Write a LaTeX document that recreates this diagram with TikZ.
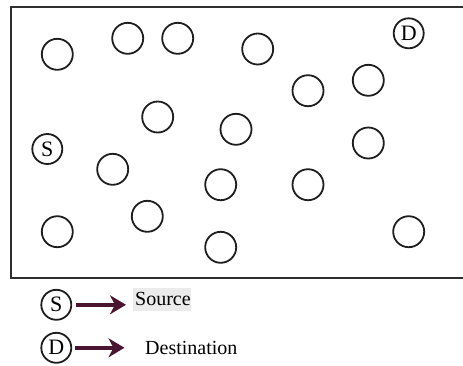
\documentclass[tikz,border=0pt]{standalone}
\usepackage{fontspec}
\setmainfont{Liberation Serif}
\usetikzlibrary{arrows.meta}
\definecolor{framegray}{HTML}{2E2E2E}
\definecolor{nodeink}{HTML}{1E1E1E}
\definecolor{arrowred}{HTML}{4A1530}
\definecolor{markgray}{HTML}{EBEBEB}
\tikzset{
  sensor/.style={circle, draw=nodeink, line width=1.8pt, minimum size=31pt, inner sep=0pt},
  endpoint/.style={circle, draw=nodeink, line width=1.8pt, minimum size=30pt, inner sep=0pt,
                   font=\fontsize{22}{22}\selectfont},
  legarrow/.style={draw=arrowred, line width=4pt,
                   -{Stealth[length=16pt,width=19pt,inset=5pt]}},
  legtext/.style={anchor=base west, inner sep=0pt, font=\fontsize{20}{20}\selectfont},
}
\begin{document}
\begin{tikzpicture}[x=1pt,y=-1pt]
\useasboundingbox (0,0) rectangle (463,365);
% deployment field
\draw[framegray, line width=2.2pt] (470,7) -- (11,7) -- (11,278) -- (470,278);
% intermediate nodes
\node[sensor] (n1)  at (57.3,54.3) {};
\node[sensor] (n2)  at (127.7,38.3) {};
\node[sensor] (n3)  at (177.7,38.3) {};
\node[sensor] (n4)  at (257.7,49) {};
\node[sensor] (n5)  at (368.3,80.3) {};
\node[sensor] (n6)  at (308,90.7) {};
\node[sensor] (n7)  at (157.7,117) {};
\node[sensor] (n8)  at (236,129.3) {};
\node[sensor] (n9)  at (368.3,143) {};
\node[sensor] (n10) at (112.7,169.3) {};
\node[sensor] (n11) at (220.7,184.7) {};
\node[sensor] (n12) at (308,184.7) {};
\node[sensor] (n13) at (147.3,216.3) {};
\node[sensor] (n14) at (57.3,231.7) {};
\node[sensor] (n15) at (408.7,231.7) {};
\node[sensor] (n16) at (220.7,247.3) {};
% source and destination
\node[endpoint] (src) at (47.3,149) {S};
\node[endpoint] (dst) at (408.7,33.3) {D};
% legend
\node[endpoint] (legS) at (56.3,304.8) {S};
\node[endpoint] (legD) at (56.3,347.8) {D};
\fill[markgray] (133,288) rectangle (191,311);
\node[legtext] (srcLabel) at (135,305.5) {Source};
\node[legtext] (dstLabel) at (145,354) {Destination};
\coordinate (tipS) at (126,304.8);
\coordinate (tipD) at (124.5,347.8);
\draw[legarrow, shorten <=4pt] (legS.east) -- (tipS);
\draw[legarrow, shorten <=3pt] (legD.east) -- (tipD);
\end{tikzpicture}
\end{document}
